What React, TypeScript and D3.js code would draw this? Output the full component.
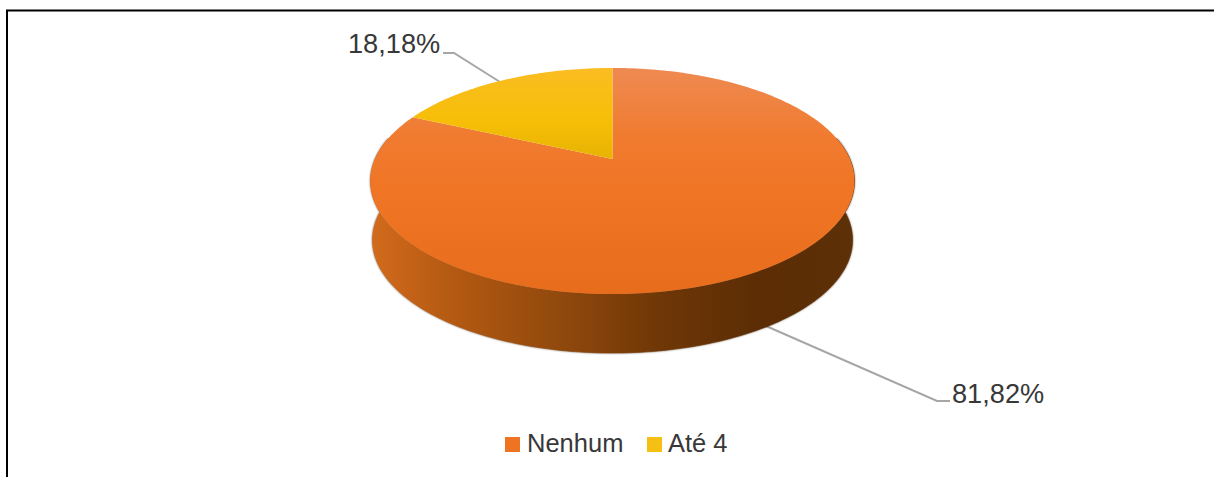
import * as d3 from "d3";

const categories = ["Nenhum", "Até 4"];
const shares = [81.82, 18.18];
const shareLabels = ["81,82%", "18,18%"];

const WIDTH = 1214;
const HEIGHT = 477;
const TEXT = "#383838";
const FONT = "'Liberation Sans', Arial, sans-serif";

// Perspective view of the pie disc: maps a point of the unit disc to the screen.
const cx = 612.5;
const tipY = 159;
const tilt = -0.1947;
const spreadY = 77.8;
const spreadX = 237.4;
const wallDepth = 59;

const project = (u: number, v: number, drop = 0, shrink = 1): [number, number] => {
  const w = 1 + tilt * v;
  return [cx + (shrink * spreadX * u) / w, (spreadY * v + tipY) / w + drop];
};

const rimPoint = (a: number, drop = 0, shrink = 1) =>
  project(Math.sin(a), -Math.cos(a), drop, shrink);

const line = d3.line<[number, number]>();

const samples = (a0: number, a1: number) => {
  const n = Math.max(2, Math.ceil(Math.abs(a1 - a0) / 0.02));
  return d3.range(n + 1).map((i) => a0 + ((a1 - a0) * i) / n);
};

const pie = d3.pie<number>().sort(null)(shares);

const slicePath = (a0: number, a1: number) =>
  line([project(0, 0), ...samples(a0, a1).map((a) => rimPoint(a))]) + "Z";

// The front wall spans the rim between its two widest points.
const frontStart = Math.PI / 2 - 0.2;
const frontEnd = (3 * Math.PI) / 2 + 0.2;
const wallPath = () => {
  const front = samples(frontStart, frontEnd);
  const top = front.map((a) => rimPoint(a));
  const bottom = front.map((a) => rimPoint(a, wallDepth, 0.992)).reverse();
  return line([...top, ...bottom]) + "Z";
};

const sliceFill = ["url(#topOrange)", "url(#topYellow)"];
const swatch = ["#ee7424", "#f6bf14"];

// Leader lines run from the rim to each percentage label.
const leaderPoints: [number, number][][] = [
  [[766, 326], [937, 401], [950, 401]],
  [[500, 82], [454, 53], [443, 53]],
];
const labelAnchors: [number, number][] = [[952, 403], [348, 53]];
const legendPlacement = [
  { swatchX: 505, textX: 527 },
  { swatchX: 647, textX: 668 },
];

export default function App() {
  return (
    <svg
      width={WIDTH}
      height={HEIGHT}
      viewBox={`0 0 ${WIDTH} ${HEIGHT}`}
      style={{ position: "absolute", left: 0, top: 0, background: "#fff" }}
    >
      <defs>
        <linearGradient id="topOrange" gradientUnits="userSpaceOnUse" x1="0" y1="68" x2="0" y2="294">
          <stop offset="0" stopColor="#ee8a52" />
          <stop offset="0.3" stopColor="#f07b30" />
          <stop offset="0.55" stopColor="#f07524" />
          <stop offset="1" stopColor="#e76c1c" />
        </linearGradient>
        <linearGradient id="topYellow" gradientUnits="userSpaceOnUse" x1="0" y1="68" x2="0" y2="160">
          <stop offset="0" stopColor="#fbbd22" />
          <stop offset="0.6" stopColor="#f6be06" />
          <stop offset="1" stopColor="#e6b203" />
        </linearGradient>
        <linearGradient id="wall" gradientUnits="userSpaceOnUse" x1="372" y1="0" x2="853" y2="0">
          <stop offset="0" stopColor="#d26a1c" />
          <stop offset="0.16" stopColor="#b55a12" />
          <stop offset="0.4" stopColor="#8f480c" />
          <stop offset="0.6" stopColor="#6f3706" />
          <stop offset="0.8" stopColor="#5c2d05" />
          <stop offset="1" stopColor="#5e3008" />
        </linearGradient>
        <filter id="soft" x="-5%" y="-5%" width="110%" height="110%">
          <feGaussianBlur stdDeviation="1.1" />
        </filter>
      </defs>

      <path d="M7 477V10.5H1214" fill="none" stroke="#000" strokeWidth={2} />

      <g fill="none" stroke="#a6a6a6" strokeWidth={2}>
        {leaderPoints.map((pts, i) => (
          <path key={i} d={line(pts) ?? ""} />
        ))}
      </g>

      <path d={wallPath()} fill="#3a2a1c" opacity={0.85} filter="url(#soft)" />
      <path d={wallPath()} fill="url(#wall)" stroke="url(#wall)" strokeWidth={0.6} />

      {pie.map((d, i) => (
        <path key={categories[i]} d={slicePath(d.startAngle, d.endAngle)} fill={sliceFill[i]} />
      ))}

      <g fontFamily={FONT} fill={TEXT}>
        {shareLabels.map((label, i) => (
          <text key={label} x={labelAnchors[i][0]} y={labelAnchors[i][1]} fontSize={27.2}>
            {label}
          </text>
        ))}
        {categories.map((name, i) => (
          <g key={name}>
            <rect x={legendPlacement[i].swatchX} y={437} width={15} height={15} fill={swatch[i]} />
            <text x={legendPlacement[i].textX} y={452} fontSize={25.5}>
              {name}
            </text>
          </g>
        ))}
      </g>
    </svg>
  );
}
